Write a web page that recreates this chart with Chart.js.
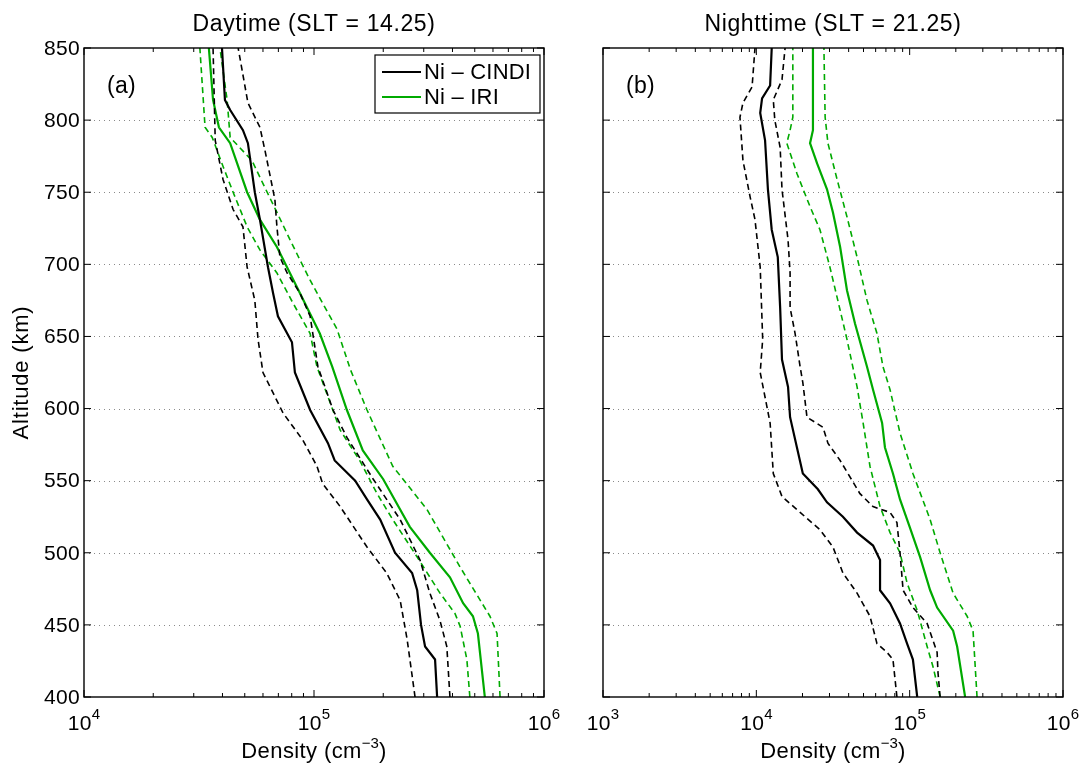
<!DOCTYPE html>
<html>
<head>
<meta charset="utf-8">
<script src="https://cdn.jsdelivr.net/npm/chart.js@4.4.1/dist/chart.umd.min.js"></script>
<style>
  html, body { margin: 0; padding: 0; background: #fff; }
  #wrap { position: relative; width: 1081px; height: 767px; }
  canvas { position: absolute; top: 0; }
  #cL { left: 0; }
  #cR { left: 570px; }
</style>
</head>
<body>
<div id="wrap">
  <canvas id="cL" width="570" height="767"></canvas>
  <canvas id="cR" width="511" height="767"></canvas>
</div>
<script>
// ---- axis ticks ----
const altTicks = [400, 450, 500, 550, 600, 650, 700, 750, 800, 850];
const dayExps = [4, 5, 6];
const nightExps = [3, 4, 5, 6];

// ---- daytime (SLT = 14.25), density in cm^-3 ----
const dayCindiAlt = [400, 426, 435, 450, 474, 486, 500, 523, 537, 550, 564, 576, 599, 625, 646, 664, 680, 698, 731, 750, 784, 793, 807, 814, 850];
const dayCindi    = [3.43e5, 3.36e5, 3.04e5, 2.92e5, 2.81e5, 2.67e5, 2.25e5, 1.94e5, 1.70e5, 1.51e5, 1.23e5, 1.15e5, 9.62e4, 8.26e4, 8.02e4, 6.97e4, 6.64e4, 6.31e4, 5.82e4, 5.53e4, 5.16e4, 4.91e4, 4.32e4, 4.10e4, 3.98e4];
const dayCindiLoAlt = [400, 440, 467, 486, 504, 532, 548, 560, 578, 597, 625, 648, 675, 698, 726, 738, 759, 786, 850];
const dayCindiLo    = [2.75e5, 2.54e5, 2.37e5, 2.07e5, 1.70e5, 1.30e5, 1.09e5, 1.03e5, 8.95e4, 7.33e4, 6.00e4, 5.71e4, 5.53e4, 5.12e4, 4.91e4, 4.45e4, 4.02e4, 3.72e4, 3.64e4];
const dayCindiHiAlt = [400, 435, 453, 472, 495, 523, 551, 580, 599, 629, 664, 680, 694, 705, 726, 745, 779, 795, 812, 850];
const dayCindiHi    = [3.90e5, 3.78e5, 3.53e5, 3.19e5, 2.89e5, 2.37e5, 1.81e5, 1.39e5, 1.21e5, 1.04e5, 9.62e4, 8.69e4, 7.64e4, 7.11e4, 6.90e4, 6.76e4, 6.12e4, 5.82e4, 5.16e4, 4.68e4];
const dayIriAlt = [400, 444, 456, 465, 483, 500, 518, 551, 571, 599, 629, 652, 680, 712, 731, 750, 784, 795, 814, 850];
const dayIri    = [5.53e5, 5.16e5, 4.91e5, 4.45e5, 3.90e5, 3.19e5, 2.61e5, 2.00e5, 1.63e5, 1.39e5, 1.20e5, 1.06e5, 8.69e4, 6.90e4, 5.82e4, 5.12e4, 4.32e4, 3.86e4, 3.64e4, 3.49e4];
const dayIriLoAlt = [400, 426, 449, 458, 472, 497, 523, 541, 564, 585, 629, 652, 673, 694, 710, 726, 750, 768, 788, 795, 850];
const dayIriLo    = [4.76e5, 4.62e5, 4.32e5, 4.10e5, 3.53e5, 2.81e5, 2.20e5, 1.88e5, 1.58e5, 1.30e5, 1.03e5, 9.62e4, 8.11e4, 6.90e4, 5.82e4, 5.12e4, 4.45e4, 4.02e4, 3.61e4, 3.36e4, 3.19e4];
const dayIriHiAlt = [400, 444, 456, 490, 530, 560, 599, 627, 655, 673, 689, 703, 717, 736, 756, 772, 788, 814, 850];
const dayIriHi    = [6.44e5, 6.25e5, 5.82e5, 4.32e5, 3.10e5, 2.20e5, 1.70e5, 1.44e5, 1.26e5, 1.09e5, 9.62e4, 8.69e4, 7.87e4, 6.90e4, 6.00e4, 5.37e4, 4.32e4, 4.19e4, 3.90e4];

// ---- nighttime (SLT = 21.25) ----
const nightCindiAlt = [400, 426, 437, 451, 465, 474, 495, 505, 514, 525, 535, 544, 555, 573, 594, 615, 634, 670, 705, 724, 752, 786, 805, 815, 824, 850];
const nightCindi    = [1.12e5, 1.05e5, 9.62e4, 8.65e4, 7.45e4, 6.41e4, 6.41e4, 5.77e4, 4.54e4, 3.67e4, 2.89e4, 2.52e4, 2.01e4, 1.84e4, 1.66e4, 1.61e4, 1.47e4, 1.43e4, 1.38e4, 1.26e4, 1.19e4, 1.14e4, 1.06e4, 1.09e4, 1.23e4, 1.26e4];
const nightCindiLoAlt = [400, 426, 431, 437, 456, 472, 486, 504, 516, 528, 539, 555, 590, 625, 648, 698, 731, 747, 772, 802, 812, 823, 850];
const nightCindiLo    = [8.26e4, 7.78e4, 7.11e4, 6.12e4, 5.51e4, 4.54e4, 3.67e4, 3.16e4, 2.60e4, 1.93e4, 1.47e4, 1.29e4, 1.23e4, 1.06e4, 1.10e4, 1.06e4, 9.80e3, 9.10e3, 8.18e3, 7.82e3, 8.18e3, 9.38e3, 9.80e3];
const nightCindiHiAlt = [400, 417, 431, 451, 462, 474, 500, 521, 528, 532, 541, 564, 576, 587, 594, 618, 629, 652, 670, 694, 717, 752, 781, 800, 814, 828, 850];
const nightCindiHi    = [1.58e5, 1.53e5, 1.51e5, 1.30e5, 1.05e5, 9.06e4, 8.65e4, 8.26e4, 7.45e4, 5.77e4, 4.74e4, 3.52e4, 2.93e4, 2.72e4, 2.14e4, 2.01e4, 1.93e4, 1.79e4, 1.66e4, 1.66e4, 1.61e4, 1.47e4, 1.43e4, 1.32e4, 1.29e4, 1.47e4, 1.54e4];
const nightIriAlt = [400, 435, 446, 462, 474, 497, 518, 537, 555, 573, 590, 613, 629, 659, 682, 712, 736, 752, 770, 784, 793, 850];
const nightIri    = [2.30e5, 2.04e5, 1.92e5, 1.51e5, 1.36e5, 1.17e5, 1.00e5, 8.65e4, 7.78e4, 6.90e4, 6.61e4, 5.77e4, 5.27e4, 4.40e4, 3.90e4, 3.52e4, 3.16e4, 2.89e4, 2.49e4, 2.24e4, 2.34e4, 2.34e4];
const nightIriLoAlt = [400, 421, 435, 460, 479, 500, 514, 532, 560, 590, 615, 648, 675, 698, 724, 740, 763, 784, 793, 802, 850];
const nightIriLo    = [1.58e5, 1.42e5, 1.30e5, 1.12e5, 9.62e4, 8.65e4, 7.45e4, 6.41e4, 5.51e4, 4.97e4, 4.54e4, 3.90e4, 3.40e4, 3.02e4, 2.60e4, 2.24e4, 1.84e4, 1.58e4, 1.66e4, 1.73e4, 1.73e4];
const nightIriHiAlt = [400, 446, 456, 472, 500, 523, 555, 583, 613, 629, 652, 675, 705, 733, 759, 784, 802, 850];
const nightIriHi    = [2.75e5, 2.59e5, 2.37e5, 1.92e5, 1.58e5, 1.36e5, 1.05e5, 8.65e4, 7.45e4, 6.70e4, 6.12e4, 5.27e4, 4.54e4, 3.90e4, 3.36e4, 2.93e4, 2.81e4, 2.76e4];

const seriesNames = ['Ni – CINDI', 'Ni – IRI'];
const BLACK = '#000000';
const GREEN = '#00aa00';
const FONT = '"Liberation Sans", Arial, Helvetica, sans-serif';

function pts(alt, dens) {
  return alt.map((a, i) => ({ x: dens[i], y: a }));
}

function ds(alt, dens, color, dashed) {
  return {
    data: pts(alt, dens),
    borderColor: color,
    borderWidth: dashed ? 1.6 : 2.2,
    borderDash: dashed ? [6, 4] : [],
    showLine: true,
    pointRadius: 0,
    fill: false,
    tension: 0
  };
}

function txt(ctx, s, x, y, size, spacing, align) {
  ctx.font = size + 'px ' + FONT;
  ctx.letterSpacing = spacing + 'px';
  ctx.textAlign = align || 'left';
  ctx.fillText(s, x, y);
}

function width(ctx, s, size, spacing) {
  ctx.font = size + 'px ' + FONT;
  ctx.letterSpacing = spacing + 'px';
  return ctx.measureText(s).width;
}

// base text + raised exponent, centred on cx
function powerText(ctx, base, exp, cx, y, size, expSize, rise, spacing) {
  const wb = width(ctx, base, size, spacing);
  const we = width(ctx, exp, expSize, 0);
  const x0 = cx - (wb + we) / 2;
  txt(ctx, base, x0, y, size, spacing, 'left');
  txt(ctx, exp, x0 + wb, y - rise, expSize, 0, 'left');
}

const frame = {
  id: 'frame',
  beforeDatasetsDraw(chart) {
    const { ctx, chartArea: a, scales: { y } } = chart;
    ctx.save();
    ctx.strokeStyle = '#8a8a8a';
    ctx.lineWidth = 1;
    ctx.setLineDash([1, 4]);
    altTicks.forEach(v => {
      if (v === altTicks[0] || v === altTicks[altTicks.length - 1]) return;
      const py = Math.round(y.getPixelForValue(v)) + 0.5;
      ctx.beginPath();
      ctx.moveTo(a.left, py);
      ctx.lineTo(a.right, py);
      ctx.stroke();
    });
    ctx.restore();
  },
  afterDraw(chart, args, o) {
    const { ctx, chartArea: a, scales: { x, y } } = chart;
    ctx.save();
    ctx.fillStyle = '#000';
    ctx.strokeStyle = '#000';
    ctx.textBaseline = 'alphabetic';

    // box
    ctx.lineWidth = 1.4;
    ctx.strokeRect(a.left, a.top, a.right - a.left, a.bottom - a.top);

    // x ticks (log), inward, top and bottom
    ctx.lineWidth = 1;
    const exps = o.exps;
    exps.forEach((k, i) => {
      const px = x.getPixelForValue(Math.pow(10, k));
      ctx.beginPath();
      ctx.moveTo(px, a.bottom); ctx.lineTo(px, a.bottom - 7);
      ctx.moveTo(px, a.top); ctx.lineTo(px, a.top + 7);
      ctx.stroke();
      powerText(ctx, '10', String(k), px, a.bottom + 33, 21, 15, 11, 0.3);
      if (i < exps.length - 1) {
        for (let m = 2; m <= 9; m++) {
          const pm = x.getPixelForValue(m * Math.pow(10, k));
          ctx.beginPath();
          ctx.moveTo(pm, a.bottom); ctx.lineTo(pm, a.bottom - 4);
          ctx.moveTo(pm, a.top); ctx.lineTo(pm, a.top + 4);
          ctx.stroke();
        }
      }
    });

    // y ticks, inward, left and right
    altTicks.forEach(v => {
      const py = y.getPixelForValue(v);
      ctx.beginPath();
      ctx.moveTo(a.left, py); ctx.lineTo(a.left + 7, py);
      ctx.moveTo(a.right, py); ctx.lineTo(a.right - 7, py);
      ctx.stroke();
      if (o.yLabels) {
        ctx.textBaseline = 'middle';
        txt(ctx, String(v), a.left - 4, py + 1, 21, 0.3, 'right');
        ctx.textBaseline = 'alphabetic';
      }
    });

    const cx = (a.left + a.right) / 2;
    // title
    txt(ctx, o.title, cx, 31, 23, 0.6, 'center');
    // panel tag
    txt(ctx, o.tag, a.left + 23, 93, 23, 0.3, 'left');

    // x axis title with superscript
    const base = 'Density (cm', sup = '\u22123', tail = ')';
    const w1 = width(ctx, base, 22, 0.4), w2 = width(ctx, sup, 15, 0), w3 = width(ctx, tail, 22, 0.4);
    let x0 = cx - (w1 + w2 + w3) / 2;
    txt(ctx, base, x0, 758, 22, 0.4, 'left');
    txt(ctx, sup, x0 + w1, 748, 15, 0, 'left');
    txt(ctx, tail, x0 + w1 + w2, 758, 22, 0.4, 'left');

    // y axis title
    if (o.yLabels) {
      ctx.save();
      ctx.translate(28, (a.top + a.bottom) / 2);
      ctx.rotate(-Math.PI / 2);
      txt(ctx, 'Altitude (km)', 0, 0, 22, 0.8, 'center');
      ctx.restore();
    }

    // legend
    if (o.legend) {
      const lx = a.right - 169, ly = a.top + 7, lw = 165, lh = 58;
      ctx.fillStyle = '#fff';
      ctx.fillRect(lx, ly, lw, lh);
      ctx.lineWidth = 1.2;
      ctx.strokeStyle = '#000';
      ctx.strokeRect(lx, ly, lw, lh);
      [BLACK, GREEN].forEach((c, i) => {
        const ry = ly + 17 + i * 25;
        ctx.strokeStyle = c;
        ctx.lineWidth = 2.2;
        ctx.beginPath();
        ctx.moveTo(lx + 7, ry); ctx.lineTo(lx + 46, ry);
        ctx.stroke();
        ctx.fillStyle = '#000';
        ctx.textBaseline = 'middle';
        txt(ctx, seriesNames[i], lx + 49, ry + 1, 22, 0.2, 'left');
        ctx.textBaseline = 'alphabetic';
      });
    }
    ctx.restore();
  }
};

function makeChart(id, datasets, xmin, xmax, padLeft, padRight, opts) {
  return new Chart(document.getElementById(id), {
    type: 'scatter',
    data: { datasets },
    options: {
      responsive: false,
      animation: false,
      devicePixelRatio: 1,
      layout: { padding: { left: padLeft, right: padRight, top: 48, bottom: 70 } },
      plugins: { legend: { display: false }, tooltip: { enabled: false }, frame: opts },
      scales: {
        x: { type: 'logarithmic', min: xmin, max: xmax, display: false },
        y: { type: 'linear', min: 400, max: 850, display: false }
      }
    },
    plugins: [frame]
  });
}

makeChart('cL', [
  ds(dayCindiAlt, dayCindi, BLACK, false),
  ds(dayCindiLoAlt, dayCindiLo, BLACK, true),
  ds(dayCindiHiAlt, dayCindiHi, BLACK, true),
  ds(dayIriAlt, dayIri, GREEN, false),
  ds(dayIriLoAlt, dayIriLo, GREEN, true),
  ds(dayIriHiAlt, dayIriHi, GREEN, true)
], 1e4, 1e6, 84, 26, { exps: dayExps, yLabels: true, legend: true, title: 'Daytime (SLT = 14.25)', tag: '(a)' });

makeChart('cR', [
  ds(nightCindiAlt, nightCindi, BLACK, false),
  ds(nightCindiLoAlt, nightCindiLo, BLACK, true),
  ds(nightCindiHiAlt, nightCindiHi, BLACK, true),
  ds(nightIriAlt, nightIri, GREEN, false),
  ds(nightIriLoAlt, nightIriLo, GREEN, true),
  ds(nightIriHiAlt, nightIriHi, GREEN, true)
], 1e3, 1e6, 33, 18, { exps: nightExps, yLabels: false, legend: false, title: 'Nighttime (SLT = 21.25)', tag: '(b)' });
</script>
</body>
</html>
